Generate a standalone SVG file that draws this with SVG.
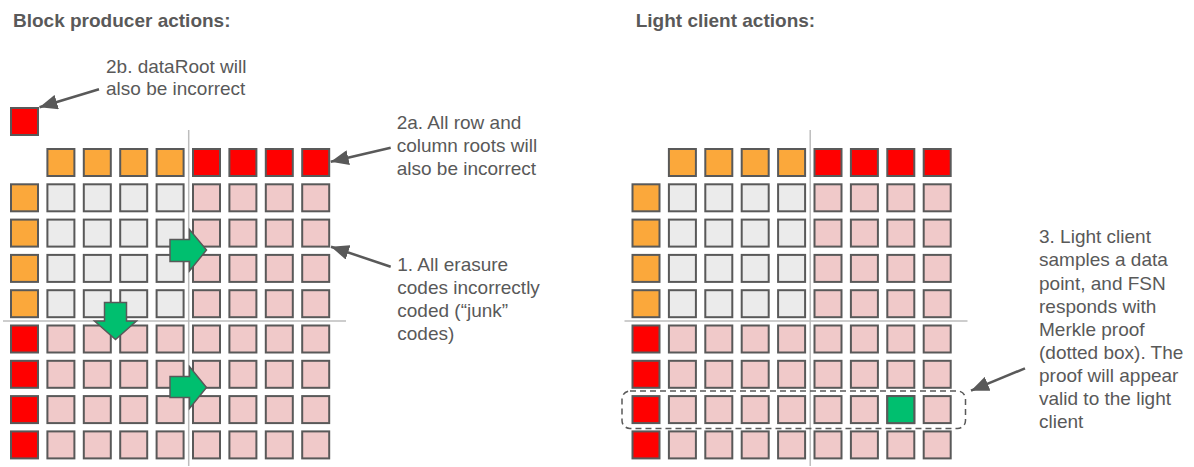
<svg xmlns="http://www.w3.org/2000/svg" xmlns:xlink="http://www.w3.org/1999/xlink" width="1194" height="467" viewBox="0 0 1194 467">
<style>
  text { font-family: "Liberation Sans", Arial, sans-serif; fill: #595959; }
  .title { font-size: 19px; font-weight: bold; }
  .lbl { font-size: 19px; }
  rect.c { stroke: #595959; stroke-width: 2; }
  .o { fill: #FBA83B; }
  .r { fill: #FF0000; }
  .g { fill: #EBEBEB; }
  .p { fill: #F0C9C9; }
  .gr { fill: #00BF6F; }
  .axis { stroke: #BDBDBD; stroke-width: 1.5; fill: none; }
  .garrow { fill: #00BF6F; stroke: #595959; stroke-width: 1.5; stroke-linejoin: miter; }
  .conn { stroke: #595959; stroke-width: 2.5; fill: none; marker-end: url(#ah); }
  .proof { fill: none; stroke: #595959; stroke-width: 1.5; stroke-dasharray: 6 4; }
</style>
<defs>
  <marker id="ah" markerUnits="userSpaceOnUse" markerWidth="18" markerHeight="15" refX="18" refY="7.5" orient="auto" viewBox="0 0 18 15">
    <path d="M0,0 L18,7.5 L0,15 z" fill="#595959"/>
  </marker>
  <g id="toprow">
    <rect class="c o" x="47.4" y="0" width="27" height="27"/><rect class="c o" x="83.8" y="0" width="27" height="27"/><rect class="c o" x="120.2" y="0" width="27" height="27"/><rect class="c o" x="156.6" y="0" width="27" height="27"/>
    <rect class="c r" x="193" y="0" width="27" height="27"/><rect class="c r" x="229.4" y="0" width="27" height="27"/><rect class="c r" x="265.8" y="0" width="27" height="27"/><rect class="c r" x="302.2" y="0" width="27" height="27"/>
  </g>
  <g id="grayrow">
    <rect class="c o" x="11" y="0" width="27" height="27"/>
    <rect class="c g" x="47.4" y="0" width="27" height="27"/><rect class="c g" x="83.8" y="0" width="27" height="27"/><rect class="c g" x="120.2" y="0" width="27" height="27"/><rect class="c g" x="156.6" y="0" width="27" height="27"/>
    <rect class="c p" x="193" y="0" width="27" height="27"/><rect class="c p" x="229.4" y="0" width="27" height="27"/><rect class="c p" x="265.8" y="0" width="27" height="27"/><rect class="c p" x="302.2" y="0" width="27" height="27"/>
  </g>
  <g id="pinkrow">
    <rect class="c r" x="11" y="0" width="27" height="27"/>
    <rect class="c p" x="47.4" y="0" width="27" height="27"/><rect class="c p" x="83.8" y="0" width="27" height="27"/><rect class="c p" x="120.2" y="0" width="27" height="27"/><rect class="c p" x="156.6" y="0" width="27" height="27"/>
    <rect class="c p" x="193" y="0" width="27" height="27"/><rect class="c p" x="229.4" y="0" width="27" height="27"/><rect class="c p" x="265.8" y="0" width="27" height="27"/><rect class="c p" x="302.2" y="0" width="27" height="27"/>
  </g>
  <g id="matrix">
    <use xlink:href="#toprow" y="149"/>
    <use xlink:href="#grayrow" y="184.3"/>
    <use xlink:href="#grayrow" y="219.6"/>
    <use xlink:href="#grayrow" y="254.9"/>
    <use xlink:href="#grayrow" y="290.2"/>
    <use xlink:href="#pinkrow" y="325.5"/>
    <use xlink:href="#pinkrow" y="360.8"/>
    <use xlink:href="#pinkrow" y="396.1"/>
    <use xlink:href="#pinkrow" y="431.4"/>
    <line class="axis" x1="188.7" y1="130" x2="188.7" y2="466"/>
    <line class="axis" x1="3" y1="321" x2="346" y2="321"/>
  </g>
</defs>
<rect width="1194" height="467" fill="#FFFFFF"/>

<g id="title-left"><text class="title" x="13" y="26.7">Block producer actions:</text></g>
<g id="title-right"><text class="title" x="635.7" y="26.7">Light client actions:</text></g>

<g id="left-grid">
  <use xlink:href="#matrix"/>
</g>
<g id="data-root">
  <rect class="c r" x="11" y="108" width="27" height="27"/>
</g>

<g id="right-grid">
  <use xlink:href="#matrix" x="621.5"/>
  <rect id="sample" class="c gr" x="887.3" y="396.1" width="27" height="27"/>
</g>

<g id="proof-box">
  <rect class="proof" x="622" y="391" width="343.5" height="37.5" rx="8" ry="8"/>
</g>

<g id="extension-arrows">
  <polygon class="garrow" points="170,239.5 189.5,239.5 189.5,229.5 206.5,250 189.5,271 189.5,261.5 170,261.5"/>
  <polygon class="garrow" points="170,376.5 189.5,376.5 189.5,366.5 206.5,387.5 189.5,408.5 189.5,397.5 170,397.5"/>
  <polygon class="garrow" points="104.5,302.5 126.5,302.5 126.5,321 136.5,321 115.5,339.5 94.5,321 104.5,321"/>
</g>

<g id="label-2b">
  <text class="lbl" x="106" y="72.7">2b. dataRoot will</text>
  <text class="lbl" x="106" y="95">also be incorrect</text>
</g>
<g id="label-2a">
  <text class="lbl" x="396.7" y="129.3">2a. All row and</text>
  <text class="lbl" x="396.7" y="152">column roots will</text>
  <text class="lbl" x="396.7" y="175">also be incorrect</text>
</g>
<g id="label-1">
  <text class="lbl" x="397.3" y="270.7">1. All erasure</text>
  <text class="lbl" x="397.3" y="294">codes incorrectly</text>
  <text class="lbl" x="397.3" y="317.2">coded (“junk”</text>
  <text class="lbl" x="397.3" y="340.3">codes)</text>
</g>
<g id="label-3">
  <text class="lbl" x="1039" y="243.3">3. Light client</text>
  <text class="lbl" x="1039" y="266.4">samples a data</text>
  <text class="lbl" x="1039" y="289.5">point, and FSN</text>
  <text class="lbl" x="1039" y="312.5">responds with</text>
  <text class="lbl" x="1039" y="335.6">Merkle proof</text>
  <text class="lbl" x="1039" y="358.7">(dotted box). The</text>
  <text class="lbl" x="1039" y="381.7">proof will appear</text>
  <text class="lbl" x="1039" y="404.8">valid to the light</text>
  <text class="lbl" x="1039" y="427.8">client</text>
</g>

<g id="connectors">
  <line class="conn" x1="99" y1="89.3" x2="39.5" y2="107.3"/>
  <line class="conn" x1="390.7" y1="147.7" x2="330.7" y2="161.7"/>
  <line class="conn" x1="390.7" y1="266.7" x2="331" y2="246.7"/>
  <line class="conn" x1="1025" y1="368.3" x2="971" y2="390.7"/>
</g>
</svg>
